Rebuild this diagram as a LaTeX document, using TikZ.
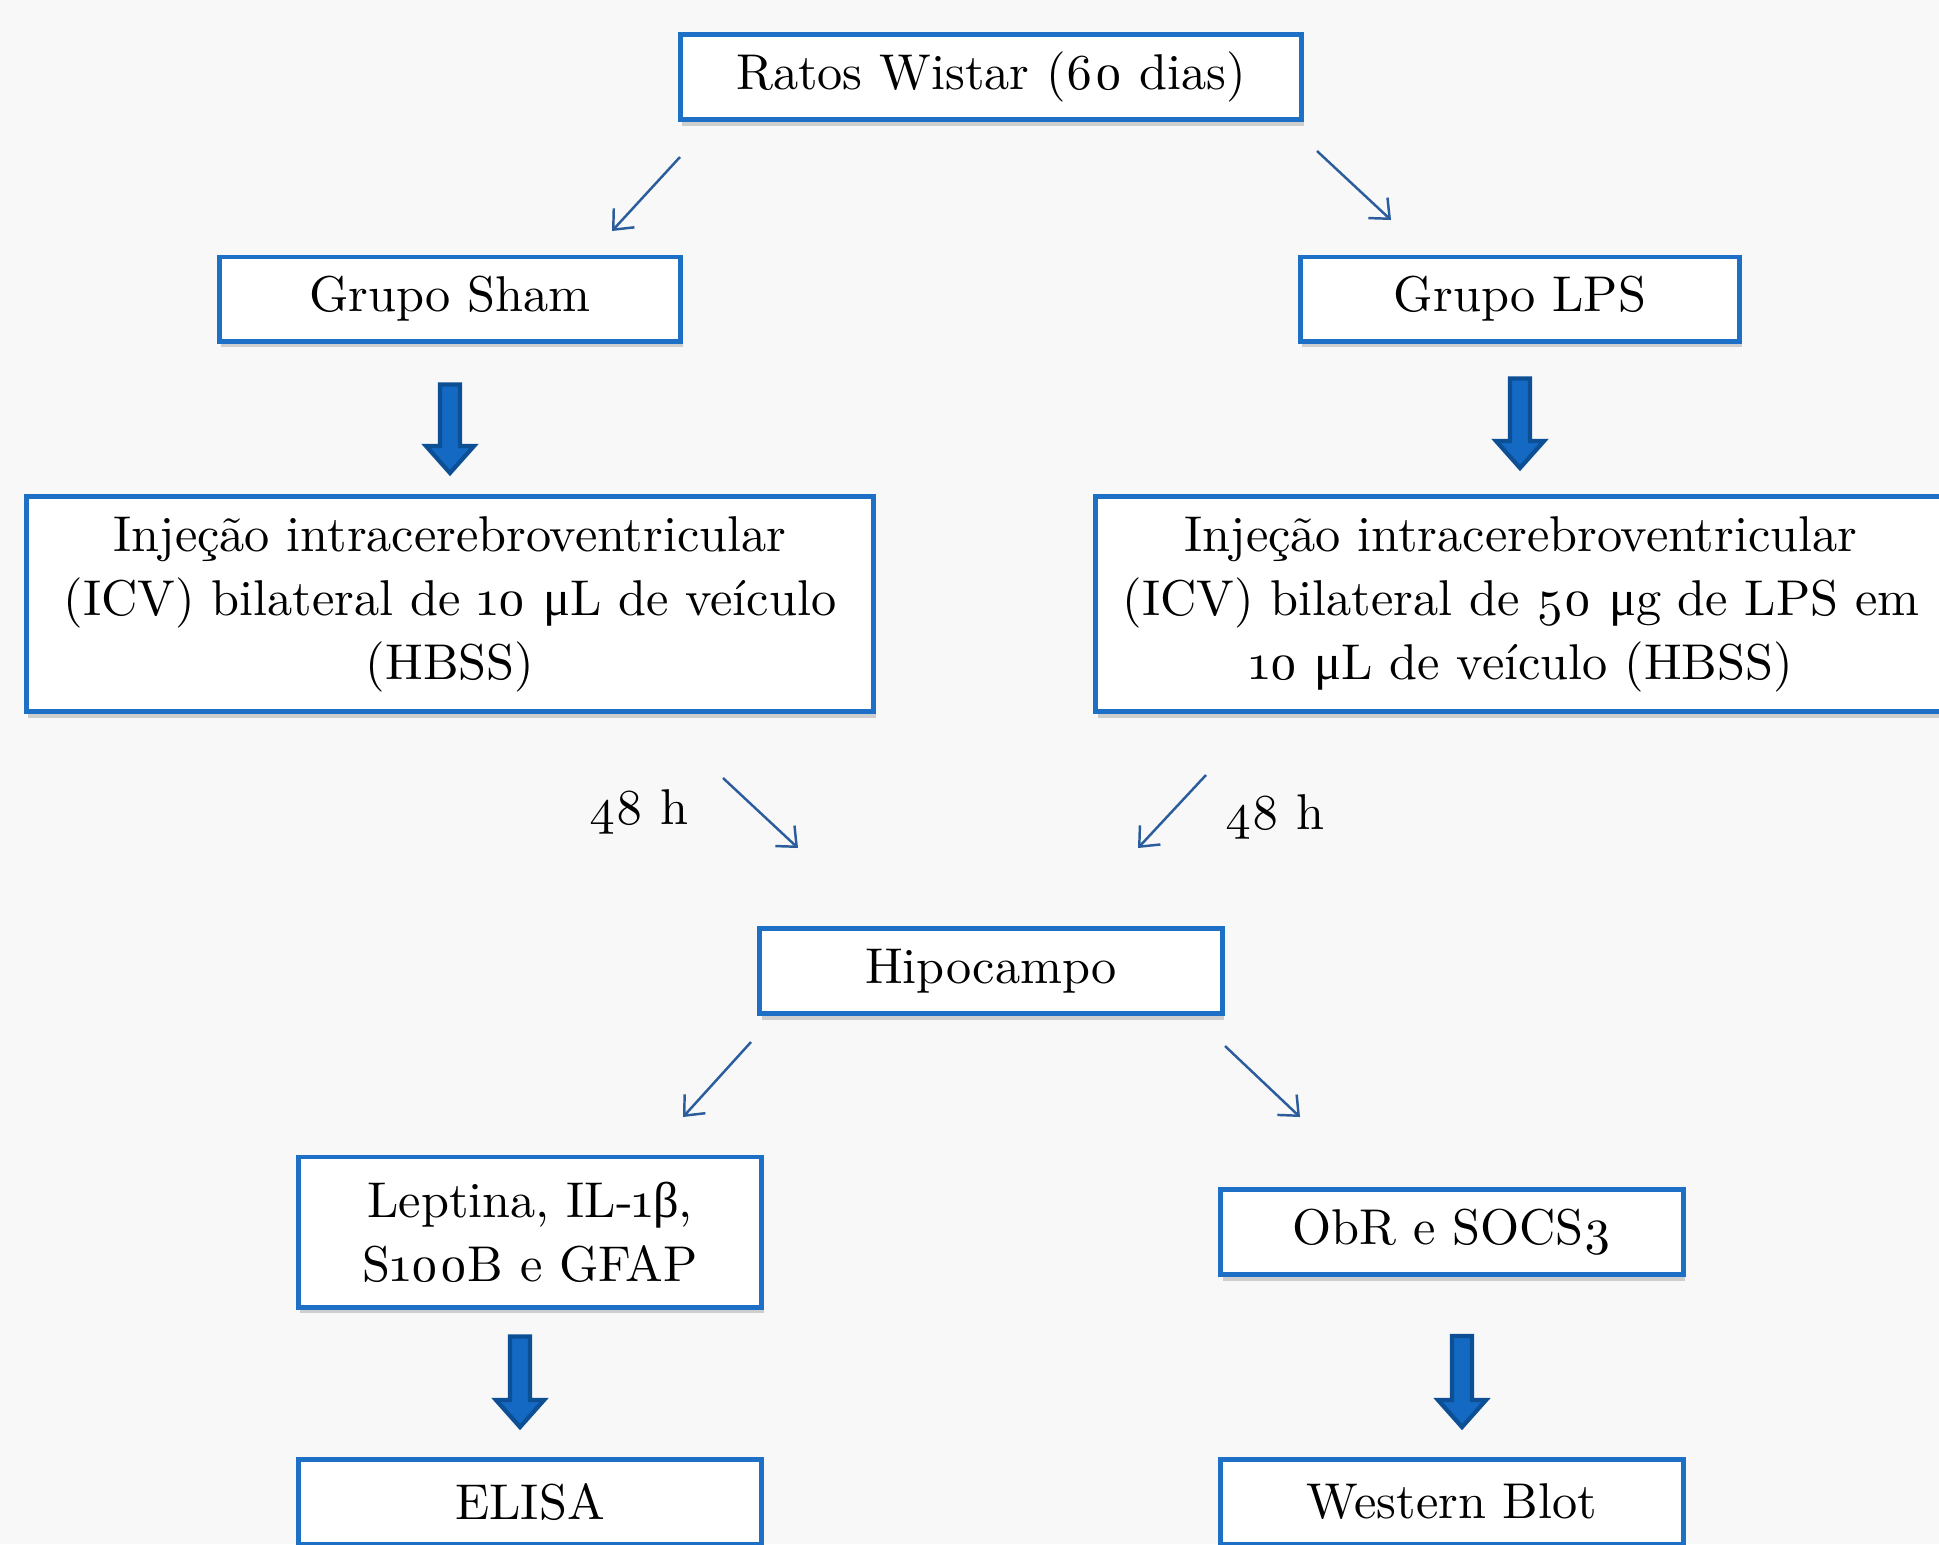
\documentclass[tikz,border=0pt]{standalone}
\usepackage{fontspec}
\setmainfont{lmroman10-regular.otf}[Numbers=OldStyle]
\newfontfamily\grk{Liberation Serif}
\usetikzlibrary{arrows.meta,calc,shadows}

\definecolor{boxblue}{HTML}{1E6FC6}
\definecolor{fatblue}{HTML}{1469C2}
\definecolor{fatedge}{HTML}{0C4F94}
\definecolor{thinblue}{HTML}{2B5C9C}
\definecolor{paper}{HTML}{F8F8F8}

% fat arrow from node #2 down to node #3 (#4, #5: gaps, #1: x offset)
\newcommand{\fatdown}[5][0]{%
  \path[fatarrow] let \p1=($(#2.south)+(#1,#4)$), \p2=($(#3.north)+(0,-#5)$) in
    (\x1-0.1cm,\y1) -- (\x1+0.1cm,\y1) -- (\x1+0.1cm,\y2+0.27cm)
    -- (\x1+0.24cm,\y2+0.27cm) -- (\x1,\y2) -- (\x1-0.24cm,\y2+0.27cm)
    -- (\x1-0.1cm,\y2+0.27cm) -- cycle;}

\begin{document}
\begin{tikzpicture}[x=0.01cm, y=-0.01cm,
  box/.style={draw=boxblue, line width=1.4pt, fill=white, align=center,
    inner sep=0pt, font=\fontsize{14.3}{18.2}\selectfont,
    drop shadow={opacity=0.35, shadow xshift=0.6pt, shadow yshift=-1.8pt}},
  thin/.style={draw=thinblue, line width=0.7pt,
    -{Straight Barb[length=1.6mm,width=2.8mm]}},
  fatarrow/.style={draw=fatedge, fill=fatblue, line width=1.2pt},
  lbl/.style={font=\fontsize{14.3}{18.2}\selectfont}]

\useasboundingbox (0,0) rectangle (1939,1544);
\clip (0,0) rectangle (1939,1544);
\fill[paper] (0,0) rectangle (1939,1544);

\node[box, minimum width=6.21cm, minimum height=0.85cm] (ratos) at (991,77) {Ratos Wistar (60 dias)};
\node[box, minimum width=4.61cm, minimum height=0.84cm] (sham) at (450,299) {Grupo Sham};
\node[box, minimum width=4.39cm, minimum height=0.84cm] (lps) at (1520,299) {Grupo LPS};

\node[box, minimum width=8.47cm, minimum height=2.15cm] (injsham) at (450,604)
  {Injeção intracerebroventricular\\(ICV) bilateral de 10 {\grk μ}L de veículo\\(HBSS)};
\node[box, minimum width=8.5cm, minimum height=2.15cm] (injlps) at (1521,604)
  {Injeção intracerebroventricular\\(ICV) bilateral de 50 {\grk μ}g de LPS em\\10 {\grk μ}L de veículo (HBSS)};

\node[box, minimum width=4.62cm, minimum height=0.85cm] (hipo) at (991,971) {Hipocampo};

\node[box, minimum width=4.63cm, minimum height=1.5cm] (marc) at (530,1232)
  {Leptina, IL-1{\grk β},\\S100B e GFAP};
\node[box, minimum width=4.62cm, minimum height=0.85cm] (obr) at (1452,1232) {ObR e SOCS3};
\node[box, minimum width=4.63cm, minimum height=0.85cm] (elisa) at (530,1502) {ELISA};
\node[box, minimum width=4.62cm, minimum height=0.85cm] (wb) at (1452,1502) {Western Blot};

\node[lbl] (h1) at (639,812) {48 h};
\node[lbl] (h2) at (1275,817) {48 h};

\coordinate (a1) at (680,157);
\coordinate (b1) at (612,231);
\coordinate (a2) at (1317,151);
\coordinate (b2) at (1391,220);
\coordinate (a3) at (723,778);
\coordinate (b3) at (798,848);
\coordinate (a4) at (1206,775);
\coordinate (b4) at (1138,848);
\coordinate (a5) at (751,1042);
\coordinate (b5) at (683,1117);
\coordinate (a6) at (1225,1046);
\coordinate (b6) at (1300,1117);

\draw[thin] (a1) -- (b1);
\draw[thin] (a2) -- (b2);
\draw[thin] (a3) -- (b3);
\draw[thin] (a4) -- (b4);
\draw[thin] (a5) -- (b5);
\draw[thin] (a6) -- (b6);

\fatdown{sham}{injsham}{41}{21}
\fatdown{lps}{injlps}{35}{26}
\fatdown[-10]{marc}{elisa}{27}{30}
\fatdown[10]{obr}{wb}{59}{30}

\end{tikzpicture}
\end{document}
